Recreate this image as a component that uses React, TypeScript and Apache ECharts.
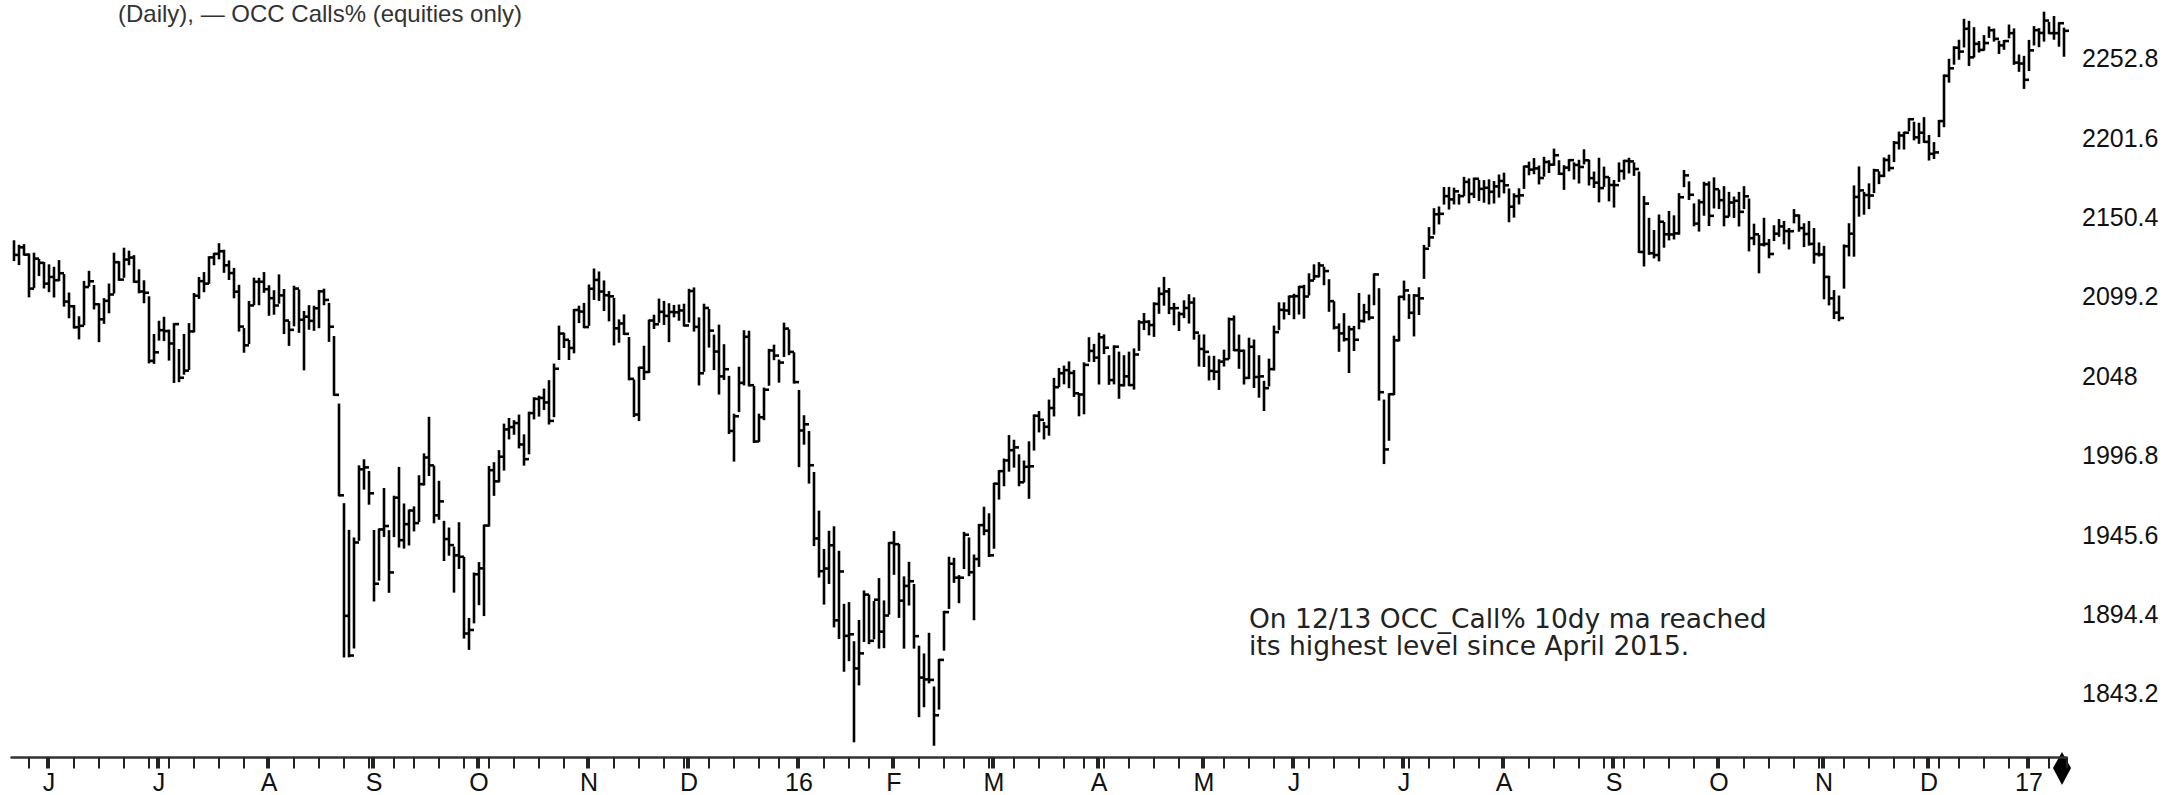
import React, { useEffect, useRef } from "react";
import * as echarts from "echarts";

// Each row: [day of month, high, low, close]
const may2015 = [
  [20, 2134.7, 2122.6, 2125.9], [21, 2131.8, 2120.0, 2130.8], [22, 2132.2, 2126.1, 2126.1],
  [26, 2126.2, 2099.2, 2104.2], [27, 2126.7, 2105.1, 2123.5], [28, 2122.7, 2112.9, 2120.8],
  [29, 2120.7, 2104.9, 2107.4],
];
const jun2015 = [
  [1, 2119.2, 2102.5, 2111.7], [2, 2117.6, 2099.1, 2109.6], [3, 2121.9, 2109.6, 2114.1],
  [4, 2112.9, 2093.2, 2095.8], [5, 2101.0, 2085.7, 2092.8], [8, 2093.0, 2079.1, 2079.3],
  [9, 2085.7, 2072.1, 2080.2], [10, 2108.5, 2081.2, 2105.2], [11, 2115.0, 2106.1, 2108.9],
  [12, 2105.9, 2091.4, 2094.1], [15, 2094.1, 2070.3, 2084.4], [16, 2097.4, 2082.1, 2096.3],
  [17, 2106.8, 2088.9, 2100.4], [18, 2126.7, 2101.6, 2121.2], [19, 2121.2, 2109.8, 2110.0],
  [22, 2129.9, 2111.8, 2122.9], [23, 2128.0, 2119.9, 2124.2], [24, 2125.1, 2108.6, 2108.6],
  [25, 2116.0, 2101.8, 2102.3], [26, 2108.9, 2095.4, 2101.5], [29, 2098.6, 2056.6, 2057.6],
  [30, 2074.3, 2056.3, 2063.1],
];
const jul2015 = [
  [1, 2082.8, 2071.3, 2077.4], [2, 2085.4, 2071.0, 2076.8], [6, 2077.1, 2058.4, 2068.8],
  [7, 2081.3, 2044.0, 2081.3], [8, 2064.6, 2044.5, 2046.7], [9, 2074.3, 2049.3, 2051.3],
  [10, 2081.3, 2052.4, 2076.6], [13, 2100.7, 2076.6, 2099.6], [14, 2111.0, 2098.2, 2109.0],
  [15, 2114.2, 2102.5, 2107.4], [16, 2124.4, 2108.0, 2124.3], [17, 2126.6, 2119.9, 2126.6],
  [20, 2132.8, 2123.7, 2128.3], [21, 2128.6, 2115.0, 2119.2], [22, 2121.7, 2110.4, 2114.2],
  [23, 2116.9, 2098.6, 2102.2], [24, 2106.0, 2077.1, 2079.7], [27, 2078.1, 2063.5, 2067.6],
  [28, 2095.6, 2069.1, 2093.3], [29, 2110.6, 2094.1, 2108.6], [30, 2110.5, 2094.1, 2108.6],
  [31, 2114.2, 2102.1, 2103.8],
];
const aug2015 = [
  [3, 2105.7, 2087.3, 2098.0], [4, 2102.5, 2088.0, 2093.3], [5, 2112.7, 2095.1, 2099.8],
  [6, 2103.3, 2075.5, 2083.6], [7, 2082.6, 2067.9, 2077.6], [10, 2105.4, 2080.5, 2104.2],
  [11, 2103.0, 2076.3, 2084.1], [12, 2089.1, 2052.1, 2086.1], [13, 2092.9, 2078.3, 2083.4],
  [14, 2092.5, 2077.6, 2091.5], [17, 2102.7, 2079.3, 2102.4], [18, 2103.5, 2094.1, 2096.9],
  [19, 2094.3, 2070.5, 2079.6], [20, 2073.0, 2035.7, 2035.7], [21, 2029.4, 1970.9, 1970.9],
  [24, 1965.2, 1867.0, 1893.2], [25, 1948.0, 1867.1, 1867.6], [26, 1943.1, 1872.8, 1940.5],
  [27, 1989.6, 1942.2, 1987.7], [28, 1993.5, 1975.2, 1988.9], [31, 1986.0, 1965.5, 1972.2],
];
const sep2015 = [
  [1, 1947.9, 1903.1, 1913.9], [2, 1948.9, 1916.5, 1948.9], [3, 1975.0, 1944.7, 1951.1],
  [4, 1947.8, 1908.7, 1921.2], [8, 1970.0, 1944.6, 1969.4], [9, 1988.6, 1937.9, 1942.0],
  [10, 1965.0, 1937.2, 1952.3], [11, 1961.1, 1939.2, 1961.1], [14, 1963.1, 1948.3, 1953.0],
  [15, 1983.2, 1954.3, 1978.1], [16, 1997.3, 1977.9, 1995.3], [17, 2020.9, 1984.0, 1990.2],
  [18, 1989.4, 1953.5, 1958.0], [21, 1979.6, 1955.8, 1967.0], [22, 1953.8, 1929.2, 1942.7],
  [23, 1949.5, 1932.6, 1938.8], [24, 1937.2, 1908.8, 1932.2], [25, 1952.9, 1924.1, 1931.3],
  [28, 1930.6, 1879.2, 1881.8], [29, 1891.2, 1871.9, 1884.1], [30, 1920.5, 1889.0, 1920.0],
];
const oct2015 = [
  [1, 1927.2, 1900.7, 1923.8], [2, 1951.4, 1893.7, 1951.4], [5, 1989.2, 1951.4, 1987.1],
  [6, 1991.6, 1971.2, 1979.9], [7, 1999.4, 1979.9, 1995.8], [8, 2016.5, 1987.5, 2013.4],
  [9, 2020.1, 2007.6, 2014.9], [12, 2018.7, 2010.6, 2017.5], [13, 2022.3, 2001.8, 2003.7],
  [14, 2009.6, 1990.7, 1994.2], [15, 2024.2, 1998.0, 2023.9], [16, 2033.5, 2020.5, 2033.1],
  [19, 2034.5, 2022.3, 2033.7], [20, 2039.1, 2026.6, 2030.8], [21, 2044.5, 2017.2, 2018.9],
  [22, 2055.2, 2021.9, 2052.5], [23, 2079.7, 2058.8, 2075.2], [26, 2075.1, 2066.5, 2071.2],
  [27, 2070.4, 2058.8, 2065.9], [28, 2090.4, 2063.1, 2090.4], [29, 2092.5, 2082.6, 2089.4],
  [30, 2094.3, 2079.3, 2079.4],
];
const nov2015 = [
  [2, 2106.2, 2080.8, 2104.1], [3, 2116.5, 2097.5, 2109.8], [4, 2114.6, 2096.9, 2102.3],
  [5, 2108.8, 2090.4, 2099.9], [6, 2101.9, 2083.7, 2099.2], [9, 2097.6, 2068.2, 2078.6],
  [10, 2083.7, 2069.9, 2081.7], [11, 2086.9, 2074.9, 2075.0], [12, 2072.3, 2045.7, 2046.0],
  [13, 2044.9, 2022.0, 2023.0], [16, 2053.2, 2019.4, 2053.2], [17, 2066.7, 2045.9, 2050.4],
  [18, 2083.6, 2050.4, 2083.6], [19, 2086.7, 2078.8, 2081.2], [20, 2097.1, 2082.8, 2089.2],
  [23, 2095.6, 2081.4, 2086.6], [24, 2094.1, 2070.3, 2089.1], [25, 2093.0, 2086.3, 2088.9],
  [27, 2093.3, 2084.1, 2090.1], [30, 2093.8, 2080.4, 2080.4],
];
const dec2015 = [
  [1, 2103.4, 2082.9, 2102.6], [2, 2104.3, 2077.1, 2079.5], [3, 2085.0, 2042.4, 2049.6],
  [4, 2093.8, 2051.2, 2091.7], [7, 2090.4, 2066.8, 2077.1], [8, 2073.9, 2052.3, 2063.6],
  [9, 2080.3, 2036.5, 2047.6], [10, 2067.7, 2045.9, 2052.2], [11, 2047.3, 2011.1, 2012.4],
  [14, 2022.9, 1993.3, 2021.9], [15, 2053.2, 2025.2, 2043.4], [16, 2076.7, 2042.4, 2073.1],
  [17, 2076.4, 2041.7, 2041.9], [18, 2040.8, 2005.3, 2005.6], [21, 2022.9, 2005.9, 2021.2],
  [22, 2039.7, 2020.0, 2039.0], [23, 2064.7, 2042.2, 2064.3], [24, 2067.4, 2058.7, 2061.0],
  [28, 2057.8, 2044.2, 2056.5], [29, 2081.6, 2060.7, 2078.4], [30, 2077.3, 2061.9, 2063.4],
  [31, 2062.5, 2043.6, 2043.9],
];
const jan2016 = [
  [4, 2038.2, 1989.7, 2012.7], [5, 2021.9, 2004.2, 2016.7], [6, 2011.7, 1979.1, 1990.3],
  [7, 1985.3, 1938.8, 1943.1], [8, 1960.4, 1918.5, 1922.0], [11, 1935.7, 1901.1, 1923.7],
  [12, 1947.4, 1914.4, 1938.7], [13, 1950.3, 1886.4, 1890.3], [14, 1934.5, 1878.9, 1921.8],
  [15, 1900.3, 1857.8, 1880.3], [19, 1901.4, 1864.6, 1881.3], [20, 1876.2, 1812.3, 1859.3],
  [21, 1889.9, 1849.0, 1869.0], [22, 1908.9, 1877.0, 1906.9], [25, 1906.3, 1875.6, 1877.1],
  [26, 1902.1, 1878.7, 1903.6], [27, 1916.9, 1872.7, 1883.0], [28, 1902.5, 1873.0, 1893.4],
  [29, 1940.2, 1894.6, 1940.2],
];
const feb2016 = [
  [1, 1947.2, 1920.3, 1939.4], [2, 1939.0, 1892.5, 1903.0], [3, 1918.0, 1872.7, 1912.5],
  [4, 1927.4, 1900.5, 1915.5], [5, 1913.1, 1872.7, 1880.1], [8, 1873.3, 1828.5, 1853.4],
  [9, 1868.3, 1834.9, 1852.2], [10, 1881.6, 1850.3, 1851.9], [11, 1847.0, 1810.1, 1829.1],
  [12, 1864.8, 1833.4, 1864.8], [16, 1895.8, 1871.4, 1895.6], [17, 1930.7, 1898.3, 1926.8],
  [18, 1930.0, 1915.1, 1917.8], [19, 1918.8, 1902.0, 1917.8], [22, 1946.7, 1924.0, 1945.5],
  [23, 1943.1, 1919.4, 1921.3], [24, 1932.1, 1891.0, 1929.8], [25, 1951.8, 1925.4, 1951.7],
  [26, 1962.9, 1945.8, 1948.1], [29, 1958.7, 1931.8, 1932.2],
];
const mar2016 = [
  [1, 1978.4, 1937.1, 1978.4], [2, 1986.5, 1968.8, 1986.5], [3, 1994.0, 1977.4, 1993.4],
  [4, 2009.1, 1986.8, 2000.0], [7, 2006.1, 1989.4, 2001.8], [8, 1996.7, 1977.4, 1979.3],
  [9, 1992.7, 1979.8, 1989.3], [10, 2005.1, 1969.3, 1989.6], [11, 2022.4, 2000.4, 2022.2],
  [14, 2024.6, 2012.1, 2019.6], [15, 2017.6, 2007.6, 2015.1], [16, 2032.0, 2010.0, 2027.2],
  [17, 2046.0, 2022.4, 2040.6], [18, 2052.4, 2041.3, 2049.6], [21, 2053.9, 2043.1, 2051.6],
  [22, 2056.6, 2040.6, 2049.8], [23, 2051.0, 2035.0, 2036.7], [24, 2036.0, 2022.5, 2035.9],
  [28, 2042.7, 2031.9, 2037.1], [29, 2056.0, 2023.8, 2055.0], [30, 2072.2, 2057.6, 2064.0],
  [31, 2067.9, 2057.5, 2059.7],
];
const apr2016 = [
  [1, 2075.1, 2043.0, 2072.8], [4, 2074.0, 2062.6, 2066.1], [5, 2060.6, 2042.8, 2045.2],
  [6, 2067.0, 2043.1, 2066.7], [7, 2062.9, 2033.8, 2041.9], [8, 2060.6, 2041.7, 2047.6],
  [11, 2062.9, 2041.9, 2042.0], [12, 2065.0, 2039.7, 2061.7], [13, 2083.2, 2064.7, 2082.4],
  [14, 2087.8, 2078.1, 2082.8], [15, 2083.2, 2074.7, 2080.7], [18, 2094.7, 2073.7, 2094.3],
  [19, 2104.4, 2088.6, 2100.8], [20, 2111.1, 2093.8, 2102.4], [21, 2103.9, 2088.4, 2091.5],
  [22, 2094.3, 2081.2, 2091.6], [25, 2088.7, 2077.5, 2087.8], [26, 2096.0, 2085.8, 2091.7],
  [27, 2099.9, 2082.3, 2095.2], [28, 2097.9, 2071.9, 2075.8], [29, 2074.0, 2054.6, 2065.3],
];
const may2016 = [
  [2, 2083.4, 2066.8, 2081.4], [3, 2074.0, 2054.3, 2063.4], [4, 2060.3, 2045.6, 2051.1],
  [5, 2060.2, 2045.8, 2050.6], [6, 2058.0, 2039.5, 2057.1], [9, 2064.2, 2054.6, 2058.7],
  [10, 2084.9, 2059.3, 2084.4], [11, 2086.2, 2064.5, 2064.5], [12, 2073.9, 2053.1, 2064.1],
  [13, 2064.2, 2043.0, 2046.6], [16, 2071.9, 2046.5, 2066.7], [17, 2070.7, 2040.8, 2047.2],
  [18, 2060.6, 2034.5, 2047.6], [19, 2044.1, 2025.9, 2040.0], [20, 2058.4, 2041.7, 2052.3],
  [23, 2055.6, 2047.3, 2048.0], [24, 2079.7, 2052.0, 2076.1], [25, 2094.7, 2078.0, 2090.5],
  [26, 2094.7, 2084.9, 2090.1], [27, 2099.1, 2087.8, 2099.1], [31, 2103.5, 2088.7, 2097.0],
];
const jun2016 = [
  [1, 2100.2, 2085.1, 2099.3], [2, 2105.3, 2088.1, 2105.3], [3, 2106.0, 2085.4, 2099.1],
  [6, 2113.4, 2100.4, 2109.4], [7, 2119.2, 2110.4, 2112.1], [8, 2120.6, 2112.1, 2119.1],
  [9, 2117.6, 2107.0, 2115.5], [10, 2109.6, 2089.9, 2096.1], [13, 2095.4, 2078.5, 2079.1],
  [14, 2081.1, 2064.1, 2075.3], [15, 2087.7, 2070.7, 2071.5], [16, 2079.6, 2050.4, 2078.0],
  [17, 2079.5, 2064.6, 2071.2], [20, 2100.7, 2078.6, 2083.3], [21, 2093.7, 2082.9, 2088.9],
  [22, 2099.7, 2084.4, 2085.5], [23, 2113.3, 2094.1, 2113.3], [24, 2103.8, 2032.6, 2037.4],
  [27, 2032.0, 1991.7, 2000.5], [28, 2036.1, 2006.7, 2036.1], [29, 2073.2, 2036.1, 2070.8],
  [30, 2098.9, 2070.8, 2098.9],
];
const jul2016 = [
  [1, 2108.7, 2097.2, 2103.0], [5, 2100.0, 2085.3, 2088.6], [6, 2100.0, 2074.0, 2099.7],
  [7, 2104.4, 2087.8, 2097.9], [8, 2131.7, 2111.1, 2129.9], [11, 2143.2, 2131.7, 2137.2],
  [12, 2155.4, 2139.6, 2152.1], [13, 2156.5, 2146.2, 2152.4], [14, 2169.0, 2159.0, 2163.8],
  [15, 2169.1, 2155.8, 2161.7], [18, 2168.6, 2159.1, 2166.9], [19, 2164.6, 2159.0, 2163.8],
  [20, 2175.6, 2164.4, 2173.0], [21, 2174.6, 2159.8, 2165.2], [22, 2175.1, 2163.2, 2175.0],
  [25, 2173.7, 2161.3, 2168.5], [26, 2173.5, 2160.2, 2169.2], [27, 2174.0, 2159.1, 2166.6],
  [28, 2172.9, 2159.7, 2170.1], [29, 2177.1, 2163.5, 2173.6],
];
const aug2016 = [
  [1, 2178.3, 2166.2, 2170.8], [2, 2168.1, 2147.6, 2157.0], [3, 2165.0, 2150.6, 2163.8],
  [4, 2168.2, 2159.1, 2164.3], [5, 2182.9, 2169.1, 2182.9], [8, 2185.4, 2177.9, 2180.9],
  [9, 2187.7, 2178.6, 2181.7], [10, 2182.9, 2172.0, 2175.5], [11, 2188.5, 2177.0, 2185.8],
  [12, 2186.3, 2179.4, 2184.1], [15, 2193.8, 2184.0, 2190.2], [16, 2186.3, 2178.1, 2178.2],
  [17, 2183.1, 2168.5, 2182.2], [18, 2187.0, 2180.5, 2187.0], [19, 2185.0, 2175.1, 2183.9],
  [22, 2186.6, 2172.6, 2182.6], [23, 2193.4, 2184.9, 2186.9], [24, 2186.7, 2171.3, 2175.4],
  [25, 2179.0, 2169.7, 2172.5], [26, 2187.9, 2160.4, 2169.0], [29, 2183.5, 2170.2, 2180.4],
  [30, 2182.2, 2170.4, 2176.1], [31, 2175.5, 2161.1, 2171.0],
];
const sep2016 = [
  [1, 2173.6, 2157.1, 2170.9], [2, 2184.9, 2173.6, 2180.0], [6, 2186.6, 2175.1, 2186.5],
  [7, 2187.9, 2179.1, 2186.2], [8, 2184.9, 2177.5, 2181.3], [9, 2179.0, 2127.8, 2127.8],
  [12, 2163.3, 2119.1, 2159.0], [13, 2149.2, 2126.6, 2127.0], [14, 2141.3, 2124.3, 2125.8],
  [15, 2151.3, 2122.4, 2147.3], [16, 2146.5, 2131.2, 2139.2], [19, 2153.6, 2135.9, 2139.1],
  [20, 2150.8, 2136.5, 2139.8], [21, 2165.1, 2139.6, 2163.1], [22, 2180.0, 2170.2, 2177.2],
  [23, 2172.7, 2162.0, 2164.7], [26, 2158.5, 2145.0, 2146.1], [27, 2161.1, 2141.6, 2159.9],
  [28, 2172.4, 2151.8, 2171.4], [29, 2172.7, 2145.2, 2151.1], [30, 2175.3, 2156.5, 2168.3],
];
const oct2016 = [
  [3, 2167.4, 2156.1, 2161.2], [4, 2169.6, 2145.0, 2150.5], [5, 2165.9, 2151.2, 2159.7],
  [6, 2162.9, 2150.3, 2160.8], [7, 2165.9, 2144.9, 2153.7], [10, 2169.6, 2156.1, 2163.7],
  [11, 2161.6, 2128.8, 2136.7], [12, 2145.4, 2132.8, 2139.2], [13, 2138.2, 2114.7, 2132.6],
  [14, 2149.2, 2132.0, 2133.0], [17, 2135.5, 2124.4, 2126.5], [18, 2144.4, 2135.5, 2139.6],
  [19, 2148.4, 2138.2, 2144.3], [20, 2147.2, 2133.4, 2141.3], [21, 2142.6, 2130.1, 2141.2],
  [24, 2154.8, 2146.9, 2151.3], [25, 2151.4, 2141.5, 2143.2], [26, 2145.7, 2131.6, 2139.4],
  [27, 2147.1, 2132.5, 2133.0], [28, 2142.6, 2120.9, 2126.4], [31, 2133.3, 2125.5, 2126.2],
];
const nov2016 = [
  [1, 2131.1, 2097.9, 2111.7], [2, 2111.8, 2094.0, 2097.9], [3, 2102.6, 2085.2, 2088.7],
  [4, 2099.1, 2083.8, 2085.2], [7, 2132.0, 2104.8, 2131.5], [8, 2145.7, 2125.6, 2139.6],
  [9, 2170.1, 2125.4, 2163.3], [10, 2182.3, 2151.2, 2167.5], [11, 2165.9, 2152.5, 2164.5],
  [14, 2171.4, 2156.1, 2164.2], [15, 2180.8, 2166.4, 2180.4], [16, 2179.2, 2172.2, 2176.9],
  [17, 2188.1, 2176.7, 2187.1], [18, 2189.9, 2180.4, 2181.9], [21, 2198.7, 2186.4, 2198.2],
  [22, 2204.8, 2194.5, 2202.9], [23, 2204.7, 2194.5, 2204.7], [25, 2213.4, 2206.3, 2213.4],
  [28, 2211.1, 2200.4, 2201.7], [29, 2210.5, 2198.2, 2204.7], [30, 2214.1, 2198.8, 2198.8],
];
const dec2016 = [
  [1, 2202.6, 2187.4, 2191.1], [2, 2198.0, 2188.4, 2192.0], [5, 2209.4, 2199.0, 2204.7],
  [6, 2212.3, 2202.5, 2212.2], [7, 2241.6, 2208.9, 2241.4], [8, 2251.7, 2237.6, 2246.2],
  [9, 2259.8, 2249.2, 2259.5], [12, 2264.0, 2252.4, 2257.0], [13, 2277.5, 2260.3, 2271.7],
  [14, 2276.2, 2248.4, 2253.3], [15, 2272.1, 2253.8, 2262.0], [16, 2263.2, 2257.0, 2258.1],
  [19, 2267.0, 2258.2, 2262.5], [20, 2272.6, 2266.5, 2270.8], [21, 2271.2, 2264.1, 2265.2],
  [22, 2263.4, 2256.1, 2261.0], [23, 2263.8, 2258.8, 2263.8], [27, 2273.8, 2266.2, 2268.9],
  [28, 2271.3, 2249.1, 2249.9], [29, 2254.5, 2244.6, 2249.3], [30, 2253.6, 2233.6, 2238.8],
];
const jan2017 = [
  [3, 2263.9, 2245.1, 2257.8], [4, 2272.8, 2261.6, 2270.8], [5, 2271.5, 2260.5, 2269.0],
  [6, 2282.1, 2264.1, 2277.0], [9, 2275.5, 2268.9, 2268.9], [10, 2279.3, 2265.3, 2268.9],
  [11, 2275.3, 2260.8, 2275.3], [12, 2271.8, 2254.3, 2270.4],
];

const monthTables: Array<[number, number, number[][]]> = [
  [2015, 5, may2015], [2015, 6, jun2015], [2015, 7, jul2015], [2015, 8, aug2015],
  [2015, 9, sep2015], [2015, 10, oct2015], [2015, 11, nov2015], [2015, 12, dec2015],
  [2016, 1, jan2016], [2016, 2, feb2016], [2016, 3, mar2016], [2016, 4, apr2016],
  [2016, 5, may2016], [2016, 6, jun2016], [2016, 7, jul2016], [2016, 8, aug2016],
  [2016, 9, sep2016], [2016, 10, oct2016], [2016, 11, nov2016], [2016, 12, dec2016],
  [2017, 1, jan2017],
];

// Sessions absent from the plotted feed
const omittedDates = ["2016-03-28", "2016-05-02", "2016-05-23", "2016-05-31", "2016-08-29", "2016-12-05"];

const yTickMin = 1792;
const yTickMax = 2304;
const yTickStep = 51.2;
const monthLetters = ["J", "F", "M", "A", "M", "J", "J", "A", "S", "O", "N", "D"];

const titleText = "(Daily), \u2014 OCC Calls% (equities only)";
const noteLines = ["On 12/13 OCC_Call% 10dy ma reached", "its highest level since April 2015."];

const pad = (n: number) => (n < 10 ? "0" + n : "" + n);

export default function App() {
  const ref = useRef<HTMLDivElement>(null);
  useEffect(() => {
    const el = ref.current;
    if (!el) return;
    const chart = echarts.init(el, undefined, { renderer: "svg" });

    const omitted = new Set(omittedDates);
    const dates: string[] = [];
    const rows: number[][] = [];
    for (const [yr, mo, table] of monthTables) {
      for (const r of table) {
        const d = `${yr}-${pad(mo)}-${pad(r[0])}`;
        if (omitted.has(d)) continue;
        dates.push(d);
        rows.push([r[1], r[2], r[3]]);
      }
    }
    const dow = dates.map((d) => new Date(d + "T00:00:00Z").getUTCDay());
    const monthOf = dates.map((d) => d.slice(0, 7));
    const monthStart = dates.map((_, i) => i > 0 && monthOf[i] !== monthOf[i - 1]);
    const weekStart = dates.map((_, i) => i > 0 && dow[i] <= dow[i - 1]);

    const T = 40; // container offset above the viewport
    const F = "'Liberation Sans', Arial, sans-serif";

    const option: any = {
      animation: false,
      backgroundColor: "#ffffff",
      grid: { left: 11.5, right: 102.5, top: T - 21.3, bottom: 835 - (T + 772.8) },
      xAxis: [
        {
          type: "category",
          data: dates,
          boundaryGap: true,
          position: "bottom",
          offset: -15.3,
          axisLine: { show: true, lineStyle: { color: "#333", width: 2.5 } },
          axisTick: {
            show: true,
            alignWithLabel: true,
            length: 11,
            interval: (i: number) => weekStart[i] || monthStart[i],
            lineStyle: { color: "#222", width: 2 },
          },
          axisLabel: {
            show: true,
            interval: (i: number) => monthStart[i],
            formatter: (v: string) => {
              const m = parseInt(v.slice(5, 7), 10);
              return m === 1 ? v.slice(2, 4) : monthLetters[m - 1];
            },
            fontFamily: F,
            fontSize: 25,
            color: "#111",
            margin: 12,
          },
          splitLine: { show: false },
        },
        {
          type: "category",
          data: dates,
          boundaryGap: true,
          position: "bottom",
          offset: -15.3,
          axisLine: { show: false },
          axisTick: {
            show: true,
            alignWithLabel: false,
            length: 11,
            interval: (i: number) => monthStart[i],
            lineStyle: { color: "#222", width: 2 },
          },
          axisLabel: { show: false },
          splitLine: { show: false },
        },
      ],
      yAxis: {
        type: "value",
        position: "right",
        min: yTickMin,
        max: yTickMax,
        interval: yTickStep,
        scale: true,
        axisLine: { show: false },
        axisTick: { show: false },
        splitLine: { show: false },
        axisLabel: {
          show: true,
          showMinLabel: false,
          showMaxLabel: false,
          margin: 15.5,
          align: "left",
          fontFamily: F,
          fontSize: 25,
          color: "#111",
          padding: [8, 0, 0, 0],
          formatter: (v: number) => {
            const r = Math.round(v * 10) / 10;
            if (r <= yTickMin || r >= yTickMax) return "";
            return Number.isInteger(r) ? String(r) : r.toFixed(1);
          },
        },
      },
      series: [
        {
          type: "custom",
          xAxisIndex: 0,
          yAxisIndex: 0,
          clip: false,
          data: rows.map((r, i) => [i, r[0], r[1], r[2]]),
          encode: { x: 0, y: [1, 2, 3] },
          renderItem: (params: any, api: any) => {
            const i = api.value(0);
            const hi = api.coord([i, api.value(1)]);
            const lo = api.coord([i, api.value(2)]);
            const cl = api.coord([i, api.value(3)]);
            const st = { stroke: "#000", lineWidth: 2.6 };
            return {
              type: "group",
              children: [
                { type: "line", shape: { x1: hi[0], y1: hi[1] - 1, x2: lo[0], y2: lo[1] + 1 }, style: st },
                { type: "line", shape: { x1: cl[0], y1: cl[1], x2: cl[0] + 5, y2: cl[1] }, style: st },
              ],
            };
          },
        },
      ],
      graphic: [
        {
          type: "text",
          left: 118,
          top: T + 1,
          style: { text: titleText, font: `24px ${F}`, fill: "#333" },
        },
        {
          type: "text",
          x: 1249,
          y: T + 618,
          style: { text: noteLines[0], font: "26.5px 'DejaVu Sans', sans-serif", fill: "#222", verticalAlign: "middle" },
        },
        {
          type: "text",
          x: 1249,
          y: T + 645,
          style: { text: noteLines[1], font: "26.5px 'DejaVu Sans', sans-serif", fill: "#222", verticalAlign: "middle" },
        },
        {
          type: "polygon",
          shape: { points: [[2062, T + 752], [2071, T + 768], [2062, T + 785], [2053, T + 768]] },
          style: { fill: "#000" },
        },
      ],
    };
    chart.setOption(option);
    return () => chart.dispose();
  }, []);
  return (
    <div
      ref={ref}
      style={{ position: "fixed", left: 0, top: -40, width: 2169, height: 835, background: "#fff" }}
    />
  );
}
